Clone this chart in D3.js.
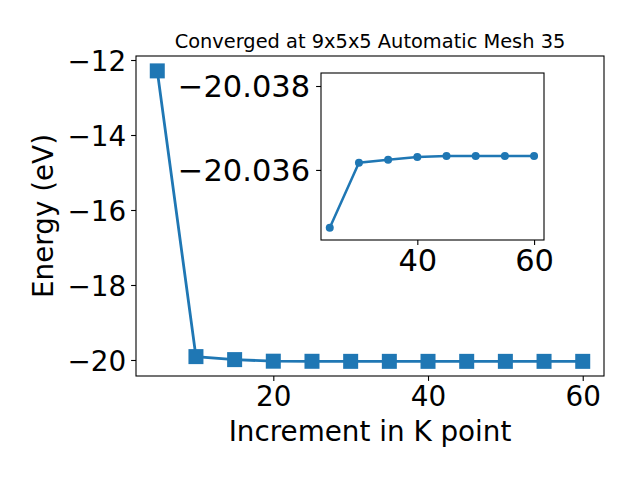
<!DOCTYPE html>
<html><head><meta charset="utf-8">
<script src="https://cdn.jsdelivr.net/npm/d3@7"></script>
<style>body{margin:0;background:#fff}svg{display:block}text{font-family:"DejaVu Sans",sans-serif}</style>
</head><body><svg id="c" width="640" height="480"></svg>
<script>
const kpoints = [5,10,15,20,25,30,35,40,45,50,55,60];
const energies = [-12.29,-19.91,-19.99,-20.032,-20.0346,-20.0362,-20.0362,-20.0363,-20.0363,-20.0363,-20.0363,-20.0363];
const insetK = [25,30,35,40,45,50,55,60];
const insetE = [-20.03462,-20.03617,-20.03624,-20.03631,-20.03633,-20.03633,-20.03633,-20.03633];
const xTicks = [20,40,60];
const yTicks = [-20,-18,-16,-14,-12];
const insetXTicks = [40,60];
const insetYTicks = [-20.038,-20.036];
const title = "Converged at 9x5x5 Automatic Mesh 35";
const xLabel = "Increment in K point";
const yLabel = "Energy (eV)";
const color = "#1f77b4";
const fmtMinus = s => s.replace("-", "\u2212");

const svg = d3.select("#c");
const M = {l:136, r:604, t:56, b:376};
const x = d3.scaleLinear().domain([2.25,62.75]).range([M.l,M.r]);
const y = d3.scaleLinear().domain([-20.427,-11.893]).range([M.b,M.t]);

function styleAxis(g, fs){
  g.selectAll(".domain").remove();
  g.selectAll(".tick line").attr("stroke","#000").attr("stroke-width",1.1);
  g.selectAll(".tick text").attr("font-size",fs).attr("fill","#000").attr("font-family","DejaVu Sans");
}
const gx = svg.append("g").attr("transform",`translate(0,${M.b})`)
  .call(d3.axisBottom(x).tickValues(xTicks).tickSize(4.9).tickPadding(4.9).tickFormat(d=>d));
styleAxis(gx, 27.8);
const gy = svg.append("g").attr("transform",`translate(${M.l},0)`)
  .call(d3.axisLeft(y).tickValues(yTicks).tickSize(4.9).tickPadding(4.9).tickFormat(d=>fmtMinus(String(d))));
styleAxis(gy, 27.8);
gy.selectAll(".tick text").attr("dy","0.36em");

const line = d3.line().x(d=>x(d[0])).y(d=>y(d[1]));
const pts = kpoints.map((k,i)=>[k,energies[i]]);
svg.append("path").datum(pts).attr("d",line).attr("fill","none").attr("stroke",color).attr("stroke-width",2.8);
const ms = 15;
svg.selectAll("rect.m").data(pts).enter().append("rect")
  .attr("x",d=>x(d[0])-ms/2).attr("y",d=>y(d[1])-ms/2).attr("width",ms).attr("height",ms).attr("fill",color);

svg.append("rect").attr("x",M.l).attr("y",M.t).attr("width",M.r-M.l).attr("height",M.b-M.t)
  .attr("fill","none").attr("stroke","#000").attr("stroke-width",1.1);

svg.append("text").attr("x",(M.l+M.r)/2).attr("y",48).attr("text-anchor","middle").attr("font-size",19.4).text(title);
svg.append("text").attr("x",(M.l+M.r)/2).attr("y",441).attr("text-anchor","middle").attr("font-size",27.8).text(xLabel);
svg.append("text").attr("transform",`translate(53,${(M.t+M.b)/2}) rotate(-90)`).attr("text-anchor","middle").attr("font-size",27.8).text(yLabel);

// inset
const I = {l:321, r:544, t:73, b:240};
const ix = d3.scaleLinear().domain([23.5,61.7]).range([I.l,I.r]);
const iy = d3.scaleLinear().domain([-20.03433,-20.03831]).range([I.b,I.t]);
svg.append("rect").attr("x",I.l).attr("y",I.t).attr("width",I.r-I.l).attr("height",I.b-I.t).attr("fill","#fff");
const igx = svg.append("g").attr("transform",`translate(0,${I.b})`)
  .call(d3.axisBottom(ix).tickValues(insetXTicks).tickSize(4.9).tickPadding(4.9).tickFormat(d=>d));
styleAxis(igx, 30.5);
const igy = svg.append("g").attr("transform",`translate(${I.l},0)`)
  .call(d3.axisLeft(iy).tickValues(insetYTicks).tickSize(4.9).tickPadding(6).tickFormat(d=>fmtMinus(d3.format(".3f")(d))));
styleAxis(igy, 30.5);
igy.selectAll(".tick text").attr("dy","0.36em");
const ipts = insetK.map((k,i)=>[k,insetE[i]]);
const iline = d3.line().x(d=>ix(d[0])).y(d=>iy(d[1]));
svg.append("path").datum(ipts).attr("d",iline).attr("fill","none").attr("stroke",color).attr("stroke-width",2.5);
svg.selectAll("circle.m").data(ipts).enter().append("circle")
  .attr("cx",d=>ix(d[0])).attr("cy",d=>iy(d[1])).attr("r",4).attr("fill",color);
svg.append("rect").attr("x",I.l).attr("y",I.t).attr("width",I.r-I.l).attr("height",I.b-I.t)
  .attr("fill","none").attr("stroke","#000").attr("stroke-width",1.1);
</script></body></html>
